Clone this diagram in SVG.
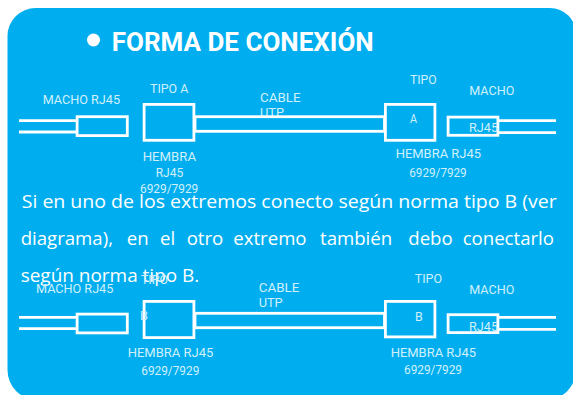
<svg xmlns="http://www.w3.org/2000/svg" width="573" height="395" viewBox="0 0 573 395">
<style>
.bg{fill:#00AEEF}
.ln{stroke:#fff;stroke-width:2.8;fill:none}
.bx{stroke:#fff;stroke-width:2.8;fill:#00AEEF}
.lb{font-family:Roboto,"Liberation Sans",sans-serif;font-size:12px;fill:#d2f0fc}
.p{font-family:"Open Sans","Noto Sans",sans-serif;font-size:18.6px;fill:#fff}
.t{font-family:Roboto,"Liberation Sans",sans-serif;font-size:26px;font-weight:bold;fill:#fff}
</style>
<path class="bg" d="M7.5,36 A28,28 0 0 1 35.5,8 L550,8 A26,26 0 0 1 576,34 L576,370 A30,30 0 0 1 546,400 L37.5,400 A30,30 0 0 1 7.5,370 Z"/>
<g id="title">
<circle cx="93.5" cy="40" r="6.5" fill="#fff"/>
<text class="t" x="111.7" y="51" textLength="262" lengthAdjust="spacingAndGlyphs">FORMA DE CONEXIÓN</text>
</g>
<g id="connectors">
<line class="ln" x1="19" y1="120.7" x2="77" y2="120.7"/>
<line class="ln" x1="19" y1="132" x2="77" y2="132"/>
<line class="ln" x1="499" y1="120.7" x2="556" y2="120.7"/>
<line class="ln" x1="499" y1="132.7" x2="556" y2="132.7"/>
<line class="ln" x1="19" y1="317.3" x2="77" y2="317.3"/>
<line class="ln" x1="19" y1="328.7" x2="77" y2="328.7"/>
<line class="ln" x1="499" y1="317.3" x2="556" y2="317.3"/>
<line class="ln" x1="499" y1="329.3" x2="556" y2="329.3"/>
</g>
<g id="row1-cable">
<text class="lb" x="260" y="101.7" textLength="40.7" lengthAdjust="spacingAndGlyphs">CABLE</text>
<text class="lb" x="260" y="117.3" textLength="24" lengthAdjust="spacingAndGlyphs">UTP</text>
<rect class="bx" x="195" y="116.7" width="189.5" height="14.6"/>
</g>
<g id="row1-macho-left">
<text class="lb" x="42.7" y="104.3" textLength="77.3" lengthAdjust="spacingAndGlyphs">MACHO RJ45</text>
<rect class="bx" x="77.1" y="116.7" width="50.2" height="18.9"/>
</g>
<g id="row1-hembra-left">
<text class="lb" x="150" y="92.7" textLength="38.3" lengthAdjust="spacingAndGlyphs">TIPO A</text>
<rect class="bx" x="144.1" y="104.4" width="49.8" height="35.9"/>
<text class="lb" x="142.7" y="161" textLength="53.3" lengthAdjust="spacingAndGlyphs">HEMBRA</text>
<text class="lb" x="155.7" y="176.7" textLength="27.6" lengthAdjust="spacingAndGlyphs">RJ45</text>
<text class="lb" x="140" y="193.3" textLength="58.3" lengthAdjust="spacingAndGlyphs">6929/7929</text>
</g>
<g id="row1-hembra-right">
<text class="lb" x="410" y="84.3" textLength="26.7" lengthAdjust="spacingAndGlyphs">TIPO</text>
<rect class="bx" x="385.4" y="104.4" width="49.5" height="35.9"/>
<text class="lb" x="410" y="122.7" textLength="7" lengthAdjust="spacingAndGlyphs">A</text>
<text class="lb" x="395.7" y="157.7" textLength="85.3" lengthAdjust="spacingAndGlyphs">HEMBRA RJ45</text>
<text class="lb" x="409.3" y="176.7" textLength="57.4" lengthAdjust="spacingAndGlyphs">6929/7929</text>
</g>
<g id="row1-macho-right">
<text class="lb" x="469.3" y="94.7" textLength="45" lengthAdjust="spacingAndGlyphs">MACHO</text>
<rect class="bx" x="448.1" y="117.1" width="49.8" height="18.2"/>
<text class="lb" x="469" y="132.3" textLength="29" lengthAdjust="spacingAndGlyphs">RJ45</text>
</g>
<g id="paragraph">
<text class="p" x="21.7" y="208.3" textLength="535" lengthAdjust="spacingAndGlyphs">Si en uno de los extremos conecto según norma tipo B (ver</text>
<text class="p" y="245"><tspan x="20.7">diagrama),</tspan><tspan x="126.7">en</tspan><tspan x="160">el</tspan><tspan x="186.7">otro</tspan><tspan x="233.3">extremo</tspan><tspan x="320">también</tspan><tspan x="408.3">debo</tspan><tspan x="462.7">conectarlo</tspan></text>
<text class="p" x="20.7" y="281.7" textLength="178.6" lengthAdjust="spacingAndGlyphs">según norma tipo B.</text>
</g>
<g id="row2-macho-left">
<text class="lb" x="36" y="293.3" textLength="77.3" lengthAdjust="spacingAndGlyphs">MACHO RJ45</text>
<rect class="bx" x="77.1" y="314.1" width="50.2" height="18.8"/>
</g>
<g id="row2-cable">
<text class="lb" x="258.7" y="291.7" textLength="40.7" lengthAdjust="spacingAndGlyphs">CABLE</text>
<text class="lb" x="258.7" y="307.3" textLength="24" lengthAdjust="spacingAndGlyphs">UTP</text>
<rect class="bx" x="195" y="313.3" width="189.5" height="14.4"/>
</g>
<g id="row2-hembra-left">
<text class="lb" x="141" y="283.5" textLength="27" lengthAdjust="spacingAndGlyphs">TIPO</text>
<rect class="bx" x="144.1" y="301.4" width="49.8" height="36.2"/>
<text class="lb" x="140" y="320" textLength="8" lengthAdjust="spacingAndGlyphs">B</text>
<text class="lb" x="127.7" y="356.7" textLength="85.6" lengthAdjust="spacingAndGlyphs">HEMBRA RJ45</text>
<text class="lb" x="141.3" y="375" textLength="58" lengthAdjust="spacingAndGlyphs">6929/7929</text>
</g>
<g id="row2-hembra-right">
<text class="lb" x="414.7" y="283.3" textLength="27.3" lengthAdjust="spacingAndGlyphs">TIPO</text>
<rect class="bx" x="385.4" y="301.4" width="49.5" height="35.5"/>
<text class="lb" x="415" y="320.7" textLength="7.7" lengthAdjust="spacingAndGlyphs">B</text>
<text class="lb" x="390.7" y="357.3" textLength="85.3" lengthAdjust="spacingAndGlyphs">HEMBRA RJ45</text>
<text class="lb" x="404" y="374" textLength="58" lengthAdjust="spacingAndGlyphs">6929/7929</text>
</g>
<g id="row2-macho-right">
<text class="lb" x="469.3" y="294" textLength="45" lengthAdjust="spacingAndGlyphs">MACHO</text>
<rect class="bx" x="448.1" y="314.7" width="49.8" height="17.9"/>
<text class="lb" x="469" y="330.7" textLength="29" lengthAdjust="spacingAndGlyphs">RJ45</text>
</g>
</svg>
